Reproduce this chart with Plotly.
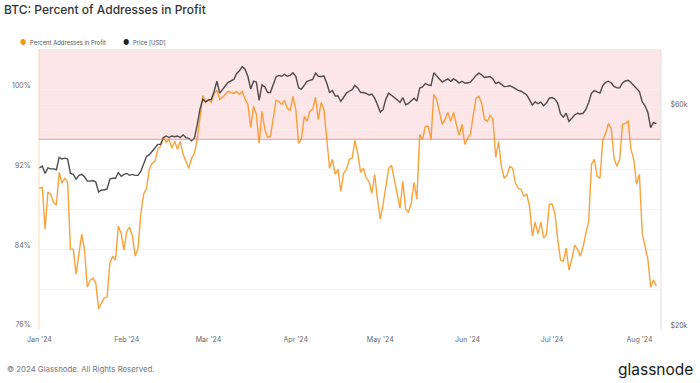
import pandas as pd
import plotly.graph_objects as go

start_date = "2024-01-01"

# Percent of addresses in profit (%), daily from 2024-01-01
profit_pct = [
    90.1, 90.2, 86.0, 89.7, 89.5, 88.7, 88.4, 91.7, 90.6, 91.1,
    90.7, 84.0, 84.0, 81.5, 83.5, 85.5, 83.9, 80.2, 80.9, 81.1,
    80.6, 78.0, 78.6, 79.1, 79.2, 82.6, 83.3, 82.9, 86.3, 85.6,
    83.9, 85.8, 86.2, 85.3, 83.3, 84.1, 87.6, 89.5, 90.1, 92.0,
    92.6, 92.8, 94.0, 94.3, 95.2, 94.7, 95.0, 94.1, 94.8, 94.0,
    94.8, 93.5, 92.8, 92.1, 93.1, 93.6, 95.0, 97.0, 99.4, 98.7,
    99.0, 98.7, 99.6, 99.9, 99.0, 99.2, 99.5, 99.8, 99.7, 99.6,
    99.8, 99.5, 99.8, 99.0, 98.5, 96.2, 98.3, 97.5, 94.6, 97.8,
    96.0, 95.2, 95.3, 97.0, 98.9, 98.8, 98.5, 98.9, 98.1, 97.9,
    99.3, 98.0, 94.6, 95.0, 97.3, 96.8, 97.8, 98.0, 99.2, 97.0,
    98.7, 98.0, 95.0, 92.1, 93.0, 91.5, 92.0, 89.8, 91.6, 92.0,
    93.0, 93.1, 94.9, 93.6, 91.7, 92.1, 91.1, 90.8, 89.6, 91.5,
    89.0, 87.0, 88.5, 90.5, 92.1, 92.4, 91.0, 89.7, 88.1, 90.8,
    88.0, 87.7, 88.6, 90.7, 89.0, 95.5, 95.0, 96.3, 96.3, 95.0,
    99.5, 99.0, 97.8, 96.5, 97.0, 97.7, 96.8, 97.7, 96.5, 95.4,
    96.5, 94.5, 95.1, 95.5, 97.4, 99.1, 99.3, 98.6, 97.0, 96.8,
    97.4, 97.0, 93.2, 94.8, 92.3, 91.1, 91.4, 92.3, 92.1, 90.6,
    90.1, 90.0, 89.3, 89.5, 88.3, 85.3, 86.7, 85.5, 86.7, 85.1,
    85.5, 88.5, 88.5, 87.6, 85.0, 82.9, 82.8, 84.1, 81.9, 83.0,
    84.4, 84.0, 83.3, 84.2, 85.6, 86.8, 92.5, 93.0, 91.3, 91.1,
    94.9, 95.6, 96.6, 96.1, 93.1, 92.3, 93.0, 96.5, 96.6, 96.8,
    94.0, 93.0, 90.5, 91.5, 85.6, 84.4, 83.0, 80.2, 80.9, 80.3,
]

# BTC price in thousands of USD, daily from 2024-01-01
price_usd_k = [
    44.4, 44.8, 43.2, 44.4, 44.2, 44.2, 44.0, 46.8, 46.4, 46.6,
    46.4, 43.2, 43.0, 42.0, 42.8, 43.0, 42.5, 41.6, 41.6, 41.7,
    41.4, 39.4, 39.8, 39.8, 40.0, 42.0, 42.2, 42.2, 43.4, 42.6,
    43.0, 43.2, 42.8, 43.0, 42.8, 42.8, 43.7, 45.4, 47.0, 47.4,
    48.1, 49.0, 49.9, 49.9, 51.6, 52.0, 51.6, 52.0, 51.8, 52.0,
    51.6, 52.3, 51.6, 51.4, 50.8, 51.4, 55.0, 59.5, 62.4, 61.6,
    62.2, 62.3, 64.9, 68.2, 64.3, 65.6, 66.7, 67.8, 68.2, 68.8,
    70.9, 71.8, 73.3, 72.4, 69.8, 65.6, 68.2, 67.9, 62.0, 67.0,
    66.3, 64.5, 64.5, 67.0, 69.7, 70.2, 69.9, 70.6, 69.9, 70.2,
    71.1, 69.9, 66.0, 65.6, 67.0, 68.2, 68.5, 68.8, 71.0, 69.9,
    69.8, 70.0, 67.5, 64.5, 65.1, 63.4, 63.4, 61.7, 63.0, 64.3,
    64.9, 65.4, 66.8, 66.0, 64.5, 64.5, 64.2, 63.7, 64.0, 62.7,
    60.7, 58.5, 59.3, 62.5, 64.3, 63.7, 62.9, 62.2, 61.4, 62.9,
    60.7, 61.1, 62.0, 62.7, 61.8, 65.9, 66.3, 67.4, 67.0, 66.7,
    71.1, 69.9, 68.8, 67.9, 68.5, 69.0, 68.2, 69.0, 68.4, 67.6,
    68.2, 67.6, 67.6, 67.9, 69.0, 70.2, 71.0, 70.4, 69.5, 69.6,
    69.8, 69.0, 67.4, 67.9, 67.0, 66.4, 66.5, 66.7, 66.2, 65.6,
    65.2, 64.9, 64.3, 63.7, 62.2, 60.6, 61.6, 61.0, 61.5, 60.4,
    61.2, 62.7, 62.9, 62.4, 61.2, 58.0, 57.1, 58.2, 55.9, 56.8,
    57.7, 58.2, 58.0, 58.2, 59.3, 61.4, 64.3, 65.1, 64.6, 64.3,
    66.8, 67.8, 68.2, 67.6, 66.5, 66.0, 66.0, 67.6, 68.3, 68.5,
    67.8, 66.7, 65.6, 64.8, 61.6, 60.4, 58.4, 54.2, 55.6, 55.3,
]

month_ticks = ["2024-01-01", "2024-02-01", "2024-03-01", "2024-04-01",
               "2024-05-01", "2024-06-01", "2024-07-01", "2024-08-01"]
month_labels = ["Jan '24", "Feb '24", "Mar '24", "Apr '24",
                "May '24", "Jun '24", "Jul '24", "Aug '24"]

pct_tickvals = [76, 80, 84, 88, 92, 96, 100]
pct_ticktext = ["76%", "", "84%", "", "92%", "", "100%"]
price_tickvals = [20000, 60000]
price_ticktext = ["$20k", "$60k"]
profit_threshold = 95

dates = pd.date_range(start_date, periods=len(profit_pct), freq="D")
price_usd = [p * 1000 for p in price_usd_k]

ORANGE = "#f7931a"
DARK = "#3b3b3b"
FONT = "Inter"

fig = go.Figure()
fig.add_trace(go.Scatter(
    x=dates, y=profit_pct, mode="lines", name="Percent Addresses in Profit",
    line=dict(color=ORANGE, width=1.4), opacity=0.85, yaxis="y",
))
fig.add_trace(go.Scatter(
    x=dates, y=price_usd, mode="lines", name="Price [USD]",
    line=dict(color=DARK, width=1.4), opacity=0.9, yaxis="y2",
))

# pink band above threshold
fig.add_shape(type="rect", xref="paper", yref="y", x0=0, x1=1,
              y0=profit_threshold, y1=104.05, fillcolor="rgba(245,100,110,0.16)",
              line=dict(width=0), layer="below")
fig.add_shape(type="line", xref="paper", yref="y", x0=0, x1=1,
              y0=profit_threshold, y1=profit_threshold,
              line=dict(color="rgba(235,110,120,0.55)", width=1.2))
# left & right frame lines
fig.add_shape(type="line", xref="paper", yref="paper", x0=0, x1=0, y0=0, y1=1,
              line=dict(color="rgba(247,147,26,0.22)", width=1.5))
fig.add_shape(type="line", xref="paper", yref="paper", x0=1, x1=1, y0=0, y1=1,
              line=dict(color="#e4e4e4", width=1.2))

L, R, T, B = 38, 38, 49, 53.5
W, H = 700, 383
pw, ph = W - L - R, H - T - B


def xp(px):
    return (px - L) / pw


def yp(py):
    return (H - B - py) / ph


annotations = [
    dict(text="●", x=xp(22), y=yp(42), font=dict(color=ORANGE, size=7)),
    dict(text="Percent Addresses in Profit", x=xp(27), y=yp(42), xanchor="left",
         font=dict(color="#555", size=5.9)),
    dict(text="●", x=xp(125), y=yp(42), font=dict(color="#222", size=7)),
    dict(text="Price [USD]", x=xp(130), y=yp(42), xanchor="left",
         font=dict(color="#555", size=5.9)),
    dict(text="© 2024 Glassnode. All Rights Reserved.", x=xp(4), y=yp(370),
         xanchor="left", font=dict(color="#777", size=7.8)),
    dict(text="glassnode", x=xp(696), y=yp(370), xanchor="right",
         font=dict(color="#1a1a1a", size=15.5)),
]
for a in annotations:
    a.setdefault("xanchor", "center")
    a.update(xref="paper", yref="paper", yanchor="middle", showarrow=False)

fig.update_layout(
    width=W, height=H,
    margin=dict(l=L, r=R, t=T, b=B),
    paper_bgcolor="white", plot_bgcolor="white",
    font=dict(family=FONT, color="#666", size=7),
    showlegend=False,
    title=dict(text="BTC: Percent of Addresses in Profit", x=4 / W, xanchor="left",
               xref="container", yref="container", y=1 - 10 / H, yanchor="middle",
               font=dict(family=FONT, size=12, color="#333", weight=500)),
    xaxis=dict(
        range=["2023-12-31 20:00", "2024-08-08 16:00"],
        tickvals=month_ticks, ticktext=month_labels,
        showgrid=False, zeroline=False, showline=False,
        ticks="outside", ticklen=4, tickcolor="rgba(0,0,0,0)",
        tickfont=dict(size=7, color="#666"),
    ),
    yaxis=dict(
        range=[76, 104.05], tickvals=pct_tickvals, ticktext=pct_ticktext,
        showgrid=True, gridcolor="#f1f1f1", gridwidth=1, zeroline=False,
        showline=False, ticks="outside", ticklen=6, tickcolor="rgba(0,0,0,0)",
        tickfont=dict(size=7, color="#666"), ticklabelshift=-4,
    ),
    yaxis2=dict(
        type="log", overlaying="y", side="right",
        range=[4.30103, 4.90309], tickvals=price_tickvals, ticktext=price_ticktext,
        showgrid=True, gridcolor="#f1f1f1", zeroline=False, showline=False,
        ticks="outside", ticklen=7, tickcolor="rgba(0,0,0,0)",
        tickfont=dict(size=7, color="#666"), ticklabelshift=-3,
    ),
    annotations=annotations,
)

fig.write_html("out.html", config={"displayModeBar": False},
               post_script="document.body.style.margin='0';")
